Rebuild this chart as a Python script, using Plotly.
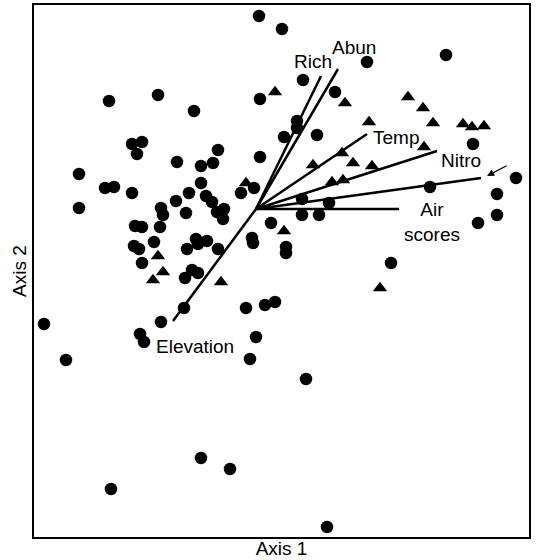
import plotly.graph_objects as go

# Site scores (Axis 1, Axis 2) - circles
circle_x = [0.03, 0.26, -1.47, -0.98, -0.62, 0.04, -1.24, -1.14, -1.19, -1.77,
            -1.51, -1.42, -1.77, -1.24, -0.79, -0.55, -0.43, -0.38, 0.04, -0.55,
            -0.67, -0.80, -0.95, -0.93, -0.70, -0.50, -0.44, -0.39, -0.32, -0.33,
            -0.15, -0.02, -1.21, -1.14, -0.96, 0.15, -1.22, -1.17, -1.02, -0.60,
            -0.58, -0.49, -0.69, -0.38, -0.04, -0.03, -1.14, -0.71, -0.64, -0.58,
            -0.72, -0.95, -1.16, -1.12, -2.12, -1.90, -0.10, 0.09, 0.19, 0.00,
            -0.06, -0.55, -0.26, -1.45, 0.50, 0.71, 1.35, 0.47, 1.11, 1.90,
            0.79, 0.41, 0.41, 0.28, 0.61, 2.17, 1.74, 2.60, 0.46, 0.73,
            0.46, 0.63, 2.41, 2.41, 2.22, 0.30, 0.30]
circle_y = [1.93, 1.80, 1.08, 1.14, 0.98, 1.10, 0.65, 0.67, 0.55, 0.35,
            0.21, 0.22, 0.01, 0.16, 0.47, 0.43, 0.46, 0.59, 0.52, 0.26,
            0.16, 0.08, 0.01, -0.06, -0.04, 0.13, 0.07, -0.03, 0.00, -0.10,
            0.16, 0.21, -0.17, -0.18, -0.18, -0.14, -0.37, -0.40, -0.33, -0.30,
            -0.35, -0.32, -0.40, -0.40, -0.29, -0.34, -0.54, -0.69, -0.61, -0.64,
            -0.99, -1.13, -1.25, -1.33, -1.15, -1.51, -0.99, -0.96, -0.93, -1.28,
            -1.50, -2.49, -2.60, -2.80, -1.70, -3.18, -0.54, 1.29, 1.47, 1.54,
            1.17, 0.88, 0.81, 0.72, 0.74, 0.65, 0.22, 0.31, 0.10, 0.06,
            -0.06, -0.06, 0.15, -0.06, -0.14, -0.38, -0.44]

# Site scores - triangles
tri_x = [0.19, 0.89, -0.10, -0.98, -0.93, -1.03, -0.35, 0.28, 1.24, 1.13,
         1.52, 1.67, 1.77, 2.07, 2.16, 2.28, 1.68, 0.86, 0.57, 0.97,
         1.16, 0.76, 0.87]
tri_y = [1.17, 1.06, 0.26, -0.47, -0.63, -0.71, -0.73, -0.22, -0.79, 0.87,
         1.12, 1.01, 0.86, 0.85, 0.82, 0.83, 0.62, 0.56, 0.44, 0.46,
         0.43, 0.27, 0.29]

# Environmental vectors (end points, origin at 0,0)
vec_names = ["Rich", "Abun", "Temp", "Nitro", "PNA", "Air scores", "Elevation"]
vec_x = [0.65, 0.82, 1.11, 1.81, 2.25, 1.43, -0.83]
vec_y = [1.33, 1.40, 0.75, 0.58, 0.31, 0.00, -1.12]

# Label anchor positions
label_text = ["Rich", "Abun", "Temp", "Nitro", "PNA", "Air<br>scores", "Elevation"]
label_x = [0.57, 0.98, 1.40, 2.05, 2.76, 1.76, -0.61]
label_y = [1.48, 1.62, 0.72, 0.49, 0.48, -0.13, -1.37]

FONT = "Liberation Sans, Arial, sans-serif"

fig = go.Figure()

fig.add_trace(go.Scatter(
    x=circle_x, y=circle_y, mode="markers",
    marker=dict(symbol="circle", size=12.5, color="black", line=dict(width=0)),
    showlegend=False, hoverinfo="skip"))
fig.add_trace(go.Scatter(
    x=tri_x, y=tri_y, mode="markers",
    marker=dict(symbol="triangle-up", size=12.5, color="black", line=dict(width=0)),
    showlegend=False, hoverinfo="skip"))

for vx, vy in zip(vec_x, vec_y):
    fig.add_trace(go.Scatter(
        x=[0, vx], y=[0, vy], mode="lines",
        line=dict(color="black", width=2.5),
        showlegend=False, hoverinfo="skip"))

for t, lx, ly in zip(label_text, label_x, label_y):
    fig.add_annotation(x=lx, y=ly, xref="x", yref="y", text=t, showarrow=False,
                       font=dict(family=FONT, size=19, color="black"),
                       xanchor="center", yanchor="middle")

# Arrow pointing from PNA label to its vector tip
pna = vec_names.index("PNA")
fig.add_annotation(x=vec_x[pna] + 0.06, y=vec_y[pna] + 0.02, xref="x", yref="y",
                   ax=vec_x[pna] + 0.27, ay=vec_y[pna] + 0.13, axref="x", ayref="y",
                   text="", showarrow=True, arrowhead=2, arrowsize=1.1,
                   arrowwidth=1.3, arrowcolor="black")

fig.update_xaxes(range=[-2.22, 2.73], showgrid=False, zeroline=False,
                 showticklabels=False, ticks="", showline=True, mirror=True,
                 linecolor="black", linewidth=2,
                 title=dict(text="Axis 1", font=dict(family=FONT, size=19, color="black"),
                            standoff=4))
fig.update_yaxes(range=[-3.28, 2.04], showgrid=False, zeroline=False,
                 showticklabels=False, ticks="", showline=True, mirror=True,
                 linecolor="black", linewidth=2,
                 title=dict(text="Axis 2", font=dict(family=FONT, size=19, color="black"),
                            standoff=0))

fig.update_layout(width=553, height=560,
                  margin=dict(l=34, r=24, t=5, b=23, autoexpand=False),
                  paper_bgcolor="white", plot_bgcolor="white")

fig.write_html("out.html", config={"displayModeBar": False},
               post_script="document.body.style.margin='0px';")
